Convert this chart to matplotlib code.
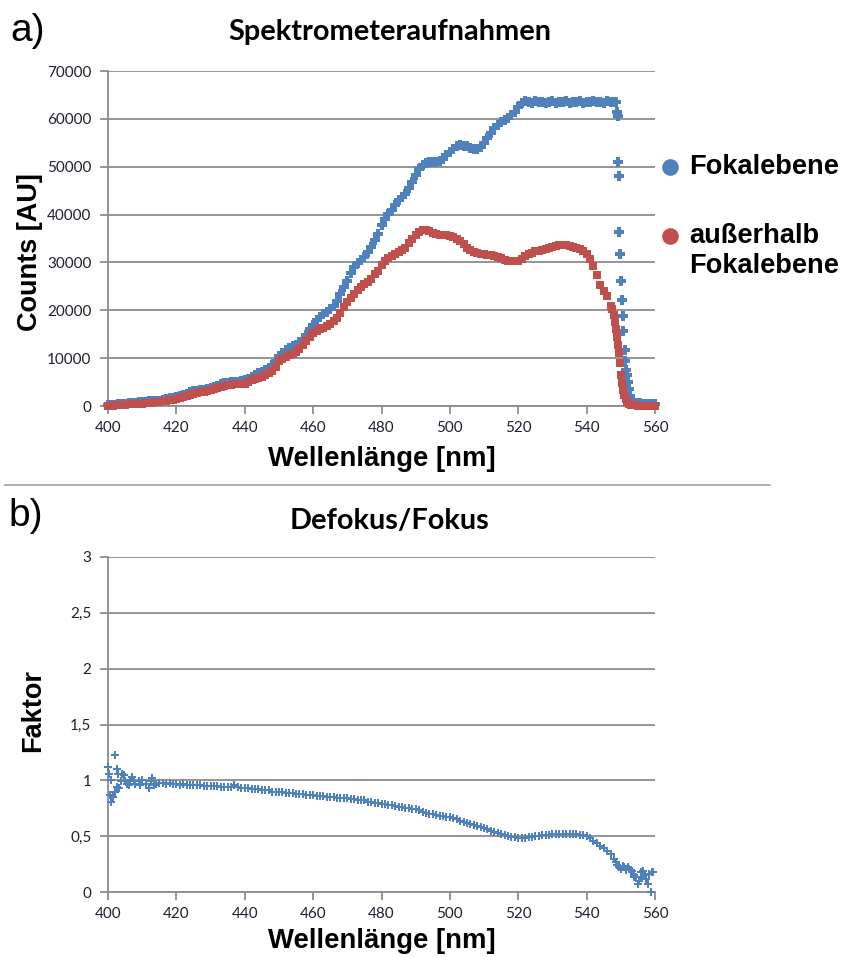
import numpy as np
import matplotlib
matplotlib.use("Agg")
import matplotlib.pyplot as plt
from matplotlib.lines import Line2D
from matplotlib.ticker import FuncFormatter

# Spektrometeraufnahmen: Counts in der Fokalebene (blau) und ausserhalb (rot)
wl_fokal = [
    400, 401, 402, 403, 404, 405, 406, 407, 408, 409,
    410, 411, 412, 413, 414, 415, 416, 417, 418, 419,
    420, 421, 422, 423, 424, 425, 426, 427, 428, 429,
    430, 431, 432, 433, 434, 435, 436, 437, 438, 439,
    440, 441, 442, 443, 444, 445, 446, 447, 448, 449,
    450, 451, 452, 453, 454, 455, 456, 457, 458, 459,
    460, 461, 462, 463, 464, 465, 466, 467, 468, 469,
    470, 471, 472, 473, 474, 475, 476, 477, 478, 479,
    480, 481, 482, 483, 484, 485, 486, 487, 488, 489,
    490, 491, 492, 493, 494, 495, 496, 497, 498, 499,
    500, 501, 502, 503, 504, 505, 506, 507, 508, 509,
    510, 511, 512, 513, 514, 515, 516, 517, 518, 519,
    520, 521, 522, 523, 524, 525, 526, 527, 528, 529,
    530, 531, 532, 533, 534, 535, 536, 537, 538, 539,
    540, 541, 542, 543, 544, 545, 546, 547, 548, 548.5,
    548.9, 549.1, 549.3, 549.5, 549.6, 549.9, 550.2, 550.3, 550.6, 550.7,
    551.1, 551.3, 551.5, 551.7, 552.0, 552.3, 552.8, 553.5, 554.5, 555.5,
    556.5, 557.5, 558.5, 559.5, 560,
]
counts_fokal = [
    150, 250, 300, 400, 450, 500, 550, 600, 650, 750,
    850, 900, 950, 1000, 1050, 1100, 1250, 1400, 1600, 1750,
    1900, 2100, 2300, 2600, 2900, 3100, 3200, 3300, 3400, 3500,
    3700, 3900, 4200, 4500, 4800, 4900, 4950, 5000, 5100, 5200,
    5400, 5700, 6100, 6500, 6900, 7200, 7500, 7900, 8500, 9300,
    10400, 11100, 11700, 12100, 12500, 12800, 13300, 14000, 14900, 16000,
    17000, 17900, 18600, 19200, 19700, 20200, 21000, 21900, 23300, 24800,
    26200, 27700, 29000, 29900, 30600, 31200, 32200, 33300, 34600, 36000,
    37800, 39100, 40100, 41000, 41900, 43000, 43700, 44400, 45600, 46800,
    48300, 49600, 50400, 50800, 51000, 51000, 51000, 51200, 51700, 52400,
    53100, 53800, 54400, 54500, 54400, 54300, 54000, 53700, 53600, 54200,
    55000, 55900, 57000, 58000, 58700, 59300, 59800, 60100, 60800, 61500,
    62500, 63300, 63800, 63600, 63400, 63700, 63500, 63600, 63300, 63600,
    63700, 63400, 63600, 63500, 63800, 63400, 63600, 63500, 63700, 63400,
    63600, 63500, 63800, 63500, 63600, 63400, 63700, 63600, 63500, 63500,
    61500, 60700, 51000, 48000, 36400, 31800, 26100, 22100, 18800, 15700,
    11600, 9300, 7600, 6400, 5100, 3500, 2000, 1000, 700, 550,
    450, 400, 380, 350, 350,
]

wl_ausser = [
    400, 401, 402, 403, 404, 405, 406, 407, 408, 409,
    410, 411, 412, 413, 414, 415, 416, 417, 418, 419,
    420, 421, 422, 423, 424, 425, 426, 427, 428, 429,
    430, 431, 432, 433, 434, 435, 436, 437, 438, 439,
    440, 441, 442, 443, 444, 445, 446, 447, 448, 449,
    450, 451, 452, 453, 454, 455, 456, 457, 458, 459,
    460, 461, 462, 463, 464, 465, 466, 467, 468, 469,
    470, 471, 472, 473, 474, 475, 476, 477, 478, 479,
    480, 481, 482, 483, 484, 485, 486, 487, 488, 489,
    490, 491, 492, 493, 494, 495, 496, 497, 498, 499,
    500, 501, 502, 503, 504, 505, 506, 507, 508, 509,
    510, 511, 512, 513, 514, 515, 516, 517, 518, 519,
    520, 521, 522, 523, 524, 525, 526, 527, 528, 529,
    530, 531, 532, 533, 534, 535, 536, 537, 538, 539,
    540, 541, 542, 543, 544, 545, 546, 547, 547.5, 548,
    548.3, 548.6, 548.9, 549.2, 549.5, 549.8, 550.1, 550.4, 550.7, 551.0,
    551.4, 551.9, 552.5, 553, 554, 555, 556, 557, 558, 559, 560,
]
counts_ausser = [
    0, 100, 150, 200, 250, 300, 350, 400, 450, 500,
    500, 550, 600, 650, 750, 850, 950, 1100, 1250, 1350,
    1500, 1700, 1900, 2100, 2400, 2600, 2750, 2900, 3000, 3100,
    3300, 3500, 3800, 4000, 4200, 4300, 4400, 4500, 4600, 4650,
    4700, 5000, 5400, 5700, 5900, 6100, 6400, 6800, 7300, 8200,
    9300, 9900, 10300, 10600, 10900, 11200, 11900, 12700, 13600, 14500,
    15300, 15700, 16000, 16400, 16800, 17200, 17700, 18300, 19500, 20700,
    21700, 22600, 23500, 24200, 24900, 25500, 26000, 26600, 27500, 28300,
    29400, 30300, 30900, 31400, 31800, 32100, 32600, 33100, 34000, 34900,
    35700, 36300, 36700, 36800, 36500, 36200, 35900, 35700, 35700, 35700,
    35600, 35400, 35000, 34500, 33800, 33100, 32600, 32200, 32000, 31800,
    31700, 31600, 31500, 31300, 31100, 30900, 30600, 30300, 30200, 30200,
    30400, 30800, 31300, 31700, 32000, 32300, 32400, 32700, 32900, 33100,
    33300, 33500, 33600, 33700, 33600, 33500, 33300, 33100, 32800, 32300,
    31700, 30800, 29300, 27300, 25300, 24000, 22900, 21000, 20200, 19100,
    17600, 16000, 14400, 12800, 11000, 8900, 6500, 4800, 3400, 2400,
    1500, 900, 500, 300, 150, 100, 100, 100, 100, 100, 100,
]

# Verhaeltnis Defokus/Fokus
wl_faktor = [
    400, 401, 402, 403, 404, 405, 406, 407, 408, 409,
    410, 411, 412, 413, 414, 415, 416, 417, 418, 419,
    420, 421, 422, 423, 424, 425, 426, 427, 428, 429,
    430, 431, 432, 433, 434, 435, 436, 437, 438, 439,
    440, 441, 442, 443, 444, 445, 446, 447, 448, 449,
    450, 451, 452, 453, 454, 455, 456, 457, 458, 459,
    460, 461, 462, 463, 464, 465, 466, 467, 468, 469,
    470, 471, 472, 473, 474, 475, 476, 477, 478, 479,
    480, 481, 482, 483, 484, 485, 486, 487, 488, 489,
    490, 491, 492, 493, 494, 495, 496, 497, 498, 499,
    500, 501, 502, 503, 504, 505, 506, 507, 508, 509,
    510, 511, 512, 513, 514, 515, 516, 517, 518, 519,
    520, 521, 522, 523, 524, 525, 526, 527, 528, 529,
    530, 531, 532, 533, 534, 535, 536, 537, 538, 539,
    540, 541, 542, 543, 544, 545, 546, 547, 548, 549,
    550, 551, 552, 553, 554, 555, 556, 557, 558, 559,
    400.3, 400.6, 400.8, 401.6, 402.0, 402.5, 402.7, 403.2, 403.7, 404.7,
    405.5, 406.5, 407.5, 409.5, 412.5, 413.5,
    548.5, 549.5, 550.5, 551.5, 552.5, 553.4, 553.9, 554.4, 554.9, 555.3,
    555.9, 556.5, 557.3, 558.3, 558.8, 559.3,
]
faktor = [
    1.12, 0.81, 1.23, 1.06, 1.06, 0.99, 0.96, 1.03, 0.97, 0.99,
    1.00, 0.97, 0.93, 1.02, 0.97, 0.98, 0.98, 0.97, 0.98, 0.97,
    0.97, 0.96, 0.97, 0.96, 0.96, 0.96, 0.96, 0.96, 0.95, 0.95,
    0.95, 0.95, 0.95, 0.94, 0.94, 0.94, 0.94, 0.96, 0.94, 0.93,
    0.93, 0.93, 0.92, 0.92, 0.92, 0.91, 0.91, 0.91, 0.90, 0.90,
    0.90, 0.90, 0.89, 0.89, 0.89, 0.88, 0.88, 0.88, 0.87, 0.87,
    0.87, 0.86, 0.86, 0.86, 0.85, 0.85, 0.85, 0.84, 0.84, 0.84,
    0.84, 0.83, 0.83, 0.82, 0.82, 0.82, 0.81, 0.81, 0.80, 0.80,
    0.79, 0.79, 0.78, 0.78, 0.77, 0.76, 0.76, 0.75, 0.75, 0.74,
    0.74, 0.73, 0.72, 0.71, 0.70, 0.70, 0.69, 0.68, 0.68, 0.67,
    0.67, 0.66, 0.65, 0.64, 0.63, 0.62, 0.61, 0.60, 0.59, 0.58,
    0.57, 0.56, 0.55, 0.54, 0.53, 0.52, 0.51, 0.50, 0.49, 0.49,
    0.48, 0.48, 0.48, 0.49, 0.49, 0.50, 0.50, 0.51, 0.51, 0.51,
    0.52, 0.52, 0.52, 0.52, 0.52, 0.52, 0.52, 0.52, 0.51, 0.51,
    0.50, 0.48, 0.46, 0.44, 0.41, 0.39, 0.37, 0.34, 0.30, 0.24,
    0.21, 0.22, 0.22, 0.20, 0.13, 0.07, 0.13, 0.15, 0.07, 0.18,
    1.06, 0.87, 1.00, 0.85, 0.90, 0.94, 1.10, 0.93, 0.99, 1.05,
    0.97, 1.00, 0.99, 0.96, 0.99, 0.96,
    0.27, 0.22, 0.23, 0.20, 0.21, 0.19, 0.15, 0.13, 0.07, 0.10,
    0.18, 0.19, 0.12, 0.16, 0.00, 0.18,
]

BLUE = '#4F81BD'
RED = '#C0504D'
GRID = '#8c8c8c'
TICKCOL = '#1e2030'

W, H = 843, 957
fig = plt.figure(figsize=(W / 100, H / 100), dpi=100)


def style_axes(ax, xpad):
    for s in ('top', 'right'):
        ax.spines[s].set_visible(False)
    for s in ('left', 'bottom'):
        ax.spines[s].set_color(GRID)
        ax.spines[s].set_linewidth(1.3)
    ax.grid(axis='y', color=GRID, linewidth=1.3)
    ax.set_axisbelow(True)
    ax.tick_params(direction='out', length=6, width=1.3, color=GRID,
                   labelcolor=TICKCOL, labelsize=11)
    ax.tick_params(axis='y', pad=6)
    ax.tick_params(axis='x', pad=5)
    ax.set_xlim(400, 560)
    ax.set_xticks(range(400, 561, 20))
    for lab in ax.get_xticklabels() + ax.get_yticklabels():
        lab.set_family('Lato')
    ax.set_xlabel('Wellenlänge [nm]', fontsize=19.8, fontweight='bold',
                  family='Liberation Sans', labelpad=xpad)


# a) Spektrometeraufnahmen
ax1 = fig.add_axes([108 / W, 1 - 406 / H, 547 / W, 335 / H])
ax1.plot(wl_fokal, counts_fokal, linestyle='none', marker='P', ms=6.5, mew=0,
         color=BLUE, clip_on=False, zorder=3)
ax1.plot(wl_ausser, counts_ausser, linestyle='none', marker='s', ms=5.2, mew=0,
         color=RED, clip_on=False, zorder=4)
ax1.set_ylim(0, 70000)
ax1.set_yticks(range(0, 70001, 10000))
style_axes(ax1, 8)
ax1.set_ylabel('Counts [AU]', fontsize=19.5, fontweight='bold',
               family='Liberation Sans')
ax1.yaxis.set_label_coords(-0.119, 0.46)
ax1.set_title('Spektrometeraufnahmen', fontsize=20.8, fontweight='bold',
              family='Lato', pad=22, x=0.5155)

# Legende rechts neben dem Diagramm
fig.add_artist(Line2D([670 / W], [1 - 167 / H], marker='o', ms=12, color=BLUE,
                      mew=0, transform=fig.transFigure))
fig.add_artist(Line2D([670 / W], [1 - 236 / H], marker='o', ms=12, color=RED,
                      mew=0, transform=fig.transFigure))
fig.text(689 / W, 1 - 167 / H, 'Fokalebene', fontsize=19.6, fontweight='bold',
         family='Liberation Sans', va='center', ha='left')
fig.text(689 / W, 1 - 251 / H, 'außerhalb\nFokalebene', fontsize=19.6,
         fontweight='bold', family='Liberation Sans', va='center', ha='left',
         linespacing=1.2)

# b) Defokus/Fokus
ax2 = fig.add_axes([108 / W, 1 - 892 / H, 547 / W, 335 / H])
ax2.plot(wl_faktor, faktor, linestyle='none', marker='P', ms=6, mew=0,
         color=BLUE, clip_on=False, zorder=3)
ax2.set_ylim(0, 3)
ax2.set_yticks([0, 0.5, 1, 1.5, 2, 2.5, 3])
ax2.yaxis.set_major_formatter(FuncFormatter(lambda v, p: ('%g' % v).replace('.', ',')))
style_axes(ax2, 5)
ax2.set_ylabel('Faktor', fontsize=19.5, fontweight='bold',
               family='Liberation Sans')
ax2.yaxis.set_label_coords(-0.113, 0.543)
ax2.set_title('Defokus/Fokus', fontsize=20.8, fontweight='bold',
              family='Lato', pad=20, x=0.5155)

# Teilbild-Beschriftung und Trennlinie
fig.text(10 / W, 1 - 41 / H, 'a)', fontsize=28, family='Liberation Sans',
         va='baseline', ha='left')
fig.text(8 / W, 1 - 526 / H, 'b)', fontsize=28, family='Liberation Sans',
         va='baseline', ha='left')
fig.add_artist(Line2D([5 / W, 770 / W], [1 - 485 / H, 1 - 485 / H],
                      color='#a0a0a0', lw=1.2, transform=fig.transFigure))

fig.savefig('out.png', dpi=100, facecolor='white')
